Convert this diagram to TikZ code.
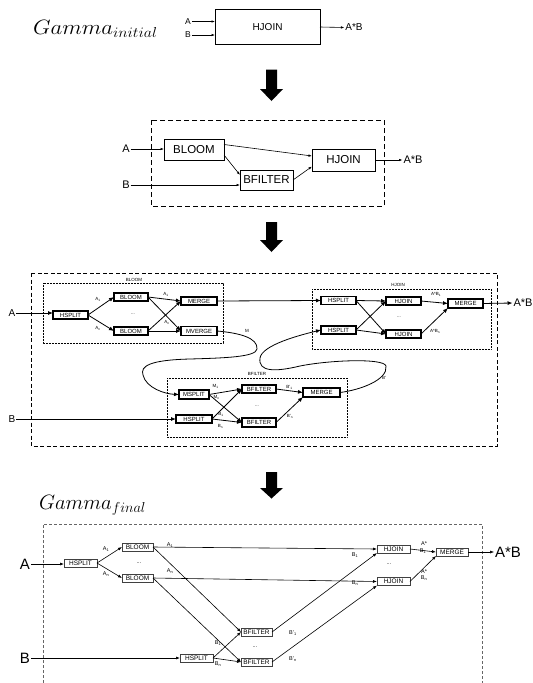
\documentclass[tikz,border=0pt]{standalone}
\usepackage{fontspec}
\setmainfont{Liberation Sans}
\usepackage{graphicx}
\usetikzlibrary{arrows.meta}
\newcommand{\fsz}[1]{\fontsize{#1}{#1}\selectfont}
\begin{document}
\begin{tikzpicture}[x=1pt,y=-1pt,
  every node/.style={inner sep=0pt,outer sep=0pt},
  lbl/.style={inner sep=1pt},
  sarr/.style={-{Latex[length=3.5pt,width=2.5pt]},line width=0.6pt},
  marr/.style={-{Latex[length=5pt,width=4pt]},line width=0.8pt},
  farr/.style={-{Latex[length=4pt,width=3pt]},line width=0.6pt},
  sbox/.style={draw,line width=0.7pt,font=\fsz{11.5}},
  mbx/.style={draw,line width=1.1pt,minimum height=8pt,font=\fsz{6}},
  fbx/.style={draw=black!75,line width=0.8pt,minimum height=8pt,font=\fsz{6.5}},
  grp/.style={line width=0.8pt,dash pattern=on 0.8pt off 0.7pt},
  mlab/.style={inner sep=0.5pt,font=\fsz{4.5}},
  flab/.style={inner sep=0.5pt,font=\fsz{5.5}},
  bigarrow/.style={fill=black}]
\useasboundingbox (0,0) rectangle (533,683);

% ---------- initial plan ----------
\node[lbl,anchor=base west] (gi) at (32,34) {\fsz{21.5}\scalebox{1.1}[1]{$Gamma_{initial}$}};
\node[draw,line width=0.7pt,minimum width=105pt,minimum height=35.5pt,font=\fsz{10}] (hj0) at (267.5,27) {HJOIN};
\node[lbl,font=\fsz{8.5}] (a0) at (188,21.5) {A};
\node[lbl,font=\fsz{8.5}] (b0) at (188,35) {B};
\node[lbl,font=\fsz{10}] (ab0) at (354,27.5) {A*B};
\draw[sarr] (a0.east) -- (a0.east -| hj0.west);
\draw[sarr] (b0.east) -- (b0.east -| hj0.west);
\draw[sarr] (hj0.east) -- (ab0.west);

\fill[bigarrow] (266,69.5) -- (277,69.5) -- (277,89) -- (283,89) -- (271.5,101) -- (260,89) -- (266,89) -- cycle;

% ---------- bloom filter plan ----------
\draw[dash pattern=on 5pt off 3pt,line width=0.7pt] (151,120) rectangle (384,206);
\node[sbox,minimum width=60pt,minimum height=21pt] (bl2) at (194,149.5) {BLOOM};
\node[sbox,minimum width=53pt,minimum height=20pt] (bf2) at (266.5,180) {BFILTER};
\node[sbox,minimum width=63pt,minimum height=22pt] (hj2) at (343.5,160) {HJOIN};
\node[lbl,font=\fsz{11}] (a2) at (126,149) {A};
\node[lbl,font=\fsz{11}] (b2) at (126,185) {B};
\node[lbl,font=\fsz{11}] (ab2) at (413,160) {A*B};
\draw[sarr] (a2.east) -- (a2.east -| bl2.west);
\draw[sarr] (b2.east) -- (b2.east -| bf2.west);
\draw[sarr] ([yshift=5pt]bl2.east) -- ([yshift=4pt]hj2.west);
\draw[sarr] ([yshift=-5.5pt]bl2.east) -- ([yshift=5pt]bf2.west);
\draw[sarr] (bf2.east) -- ([yshift=-6.5pt]hj2.west);
\draw[sarr] (hj2.east) -- (ab2.west);

\fill[bigarrow] (266,222) -- (277,222) -- (277,240) -- (283,240) -- (271.5,252) -- (260,240) -- (266,240) -- cycle;

% ---------- parallel plan ----------
\draw[dash pattern=on 4pt off 2.5pt,line width=0.8pt] (31,273) rectangle (497,446);

% BLOOM group
\draw[grp] (43,283) rectangle (223,343);
\node[mlab] (gbl) at (134,280) {BLOOM};
\node[mbx,minimum width=35pt] (hsA) at (70.5,315) {HSPLIT};
\node[mbx,minimum width=34pt] (bl1) at (131,297) {BLOOM};
\node[mbx,minimum width=34pt] (bln) at (131,331) {BLOOM};
\node[mbx,minimum width=36pt] (mg1) at (199,301) {MERGE};
\node[mbx,minimum width=36pt,minimum height=9pt] (mv1) at (199,331) {MVERGE};
\node[mlab] (la1) at (98,299.5) {A\textsubscript{1}};
\node[mlab] (lan) at (98,328) {A\textsubscript{n}};
\node[mlab] (lb1) at (166,294) {A\textsubscript{1}};
\node[mlab] (lbn) at (167,322.5) {A\textsubscript{n}};
\node[mlab] (dt1) at (133,314) {...};

% HJOIN group
\draw[grp] (312,289) rectangle (491,349);
\node[mlab] (ghj) at (398,285) {HJOIN};
\node[mbx,minimum width=35pt] (hs1) at (338.5,300.5) {HSPLIT};
\node[mbx,minimum width=35pt] (hs2) at (338.5,330) {HSPLIT};
\node[mbx,minimum width=35pt] (hj1) at (403.5,301) {HJOIN};
\node[mbx,minimum width=35pt] (hjn) at (403.5,334) {HJOIN};
\node[mbx,minimum width=35pt,minimum height=9pt] (mg2) at (465.5,303.5) {MERGE};
\node[mlab] (lj1) at (436,294) {A*B\textsubscript{1}};
\node[mlab] (ljn) at (435,331) {A*B\textsubscript{n}};
\node[mlab] (dt2) at (399,317) {...};

% BFILTER group
\draw[grp] (167,378) rectangle (347,437);
\node[mlab] (gbf) at (257,374) {BFILTER};
\node[mbx,minimum width=30pt,minimum height=9pt] (ms) at (194,394.5) {MSPLIT};
\node[mbx,minimum width=36pt] (hsB) at (194,419) {HSPLIT};
\node[mbx,minimum width=34pt] (bf1) at (259,389) {BFILTER};
\node[mbx,minimum width=34pt,minimum height=9pt] (bfn) at (259,422.5) {BFILTER};
\node[mbx,minimum width=37pt,minimum height=9pt] (mg3) at (321.5,392.5) {MERGE};
\node[mlab] (lm1) at (215.5,386.5) {M\textsubscript{1}};
\node[mlab] (lmn) at (216.5,397) {M\textsubscript{n}};
\node[mlab] (lq1) at (221,414.5) {B\textsubscript{1}};
\node[mlab] (lqn) at (220.5,426) {B\textsubscript{n}};
\node[mlab] (lr1) at (289.5,387.5) {B'\textsubscript{1}};
\node[mlab] (lrn) at (290,416.5) {B'\textsubscript{n}};
\node[mlab] (dt3) at (257,406) {...};

\node[lbl,font=\fsz{10}] (A3) at (12,313) {A};
\node[lbl,font=\fsz{10}] (B3) at (12,419) {B};
\node[lbl,font=\fsz{11}] (AB3) at (523,303) {A*B};
\node[mlab] (lM) at (247,331) {M};
\node[mlab] (lB) at (384,378) {B'};

\draw[marr] (A3.east) -- (A3.east -| hsA.west);
\draw[marr] (hsA.east) -- (bl1.west);
\draw[marr] (hsA.east) -- (bln.west);
\draw[marr] (bl1.east) -- (mg1.west);
\draw[marr] (bl1.east) -- (mv1.west);
\draw[marr] (bln.east) -- (mg1.west);
\draw[marr] (bln.east) -- (mv1.west);
\draw[marr] (mg1.east) -- (hs1.west);
\draw[marr] (hs1.east) -- (hj1.west);
\draw[marr] (hs1.east) -- (hjn.west);
\draw[marr] (hs2.east) -- (hj1.west);
\draw[marr] (hs2.east) -- (hjn.west);
\draw[marr] (hj1.east) -- (mg2.west);
\draw[marr] (hjn.east) -- (mg2.south west);
\draw[marr] (mg2.east) -- (AB3.west);
\draw[marr] (B3.east) -- (B3.east -| hsB.west);
\draw[marr] (ms.east) -- (bf1.west);
\draw[marr] (ms.east) -- (bfn.west);
\draw[marr] (hsB.east) -- (bf1.west);
\draw[marr] (hsB.east) -- (bfn.west);
\draw[marr] (bf1.east) -- (mg3.west);
\draw[marr] (bfn.east) -- (mg3.south west);

% looping feeds between groups
\coordinate (mc1) at (257,349);
\coordinate (mc2) at (190,359);
\coordinate (mc3) at (143,375);
\draw[marr] (mv1.east) .. controls (240,333) and (258,338) .. (mc1)
  .. controls (256,357) and (225,358) .. (mc2)
  .. controls (150,360) and (140,366) .. (mc3)
  .. controls (146,388) and (165,394) .. (ms.west);
\coordinate (bc1) at (386,366);
\coordinate (bc2) at (300,366);
\coordinate (bc3) at (260,358);
\draw[marr] (mg3.east) .. controls (360,390) and (388,380) .. (bc1)
  .. controls (384,358) and (330,360) .. (bc2)
  .. controls (275,372) and (258,372) .. (bc3)
  .. controls (262,345) and (300,335) .. (hs2.west);

\fill[bigarrow] (266,472) -- (277,472) -- (277,488) -- (283,488) -- (271.5,498.5) -- (260,488) -- (266,488) -- cycle;

% ---------- final plan ----------
\node[lbl,anchor=base west] (gf) at (38,509) {\fsz{21.5}$Gamma_{final}$};
\draw[draw=black!60,line width=0.6pt,dash pattern=on 3pt off 2pt] (43,683) -- (43,524) -- (482,524) -- (482,683);

\node[fbx,minimum width=33pt] (hsF) at (80.5,563) {HSPLIT};
\node[fbx,minimum width=31pt] (bF1) at (137.5,547) {BLOOM};
\node[fbx,minimum width=31pt] (bFn) at (137.5,578) {BLOOM};
\node[fbx,minimum width=33pt] (hjF1) at (393.5,549) {HJOIN};
\node[fbx,minimum width=33pt] (hjFn) at (393.5,581.5) {HJOIN};
\node[fbx,minimum width=32pt] (mgF) at (452,552) {MERGE};
\node[fbx,minimum width=31pt] (bfF1) at (256.5,632) {BFILTER};
\node[fbx,minimum width=31pt] (bfFn) at (256.5,662) {BFILTER};
\node[fbx,minimum width=33pt] (hsFB) at (196.5,658) {HSPLIT};

\node[lbl,font=\fsz{15}] (aF) at (25,564) {A};
\node[lbl,font=\fsz{15}] (bF) at (25,658) {B};
\node[lbl,font=\fsz{15}] (abF) at (508,552) {A*B};

\node[flab] (fa1) at (106,549) {A\textsubscript{1}};
\node[flab] (fan) at (106,574.5) {A\textsubscript{n}};
\node[flab] (fb1) at (170,545) {A\textsubscript{1}};
\node[flab] (fbn) at (170,571) {A\textsubscript{n}};
\node[flab] (fd1) at (139,563) {...};
\node[flab] (fc1) at (355,555.5) {B\textsubscript{1}};
\node[flab] (fcn) at (355,583) {B\textsubscript{n}};
\node[flab] (fd2) at (389,564) {...};
\node[flab] (fe1) at (424,543.5) {A*};
\node[flab] (fe2) at (423,551.5) {B\textsubscript{1}};
\node[flab] (fe3) at (424,571.5) {A*};
\node[flab] (fe4) at (424,578.5) {B\textsubscript{n}};
\node[flab] (fg1) at (218,643) {B\textsubscript{1}};
\node[flab] (fgn) at (218,664) {B\textsubscript{n}};
\node[flab] (fd3) at (255,647) {...};
\node[flab] (fh1) at (293,633) {B'\textsubscript{1}};
\node[flab] (fhn) at (293,659) {B'\textsubscript{n}};

\draw[farr] (aF.east) -- (aF.east -| hsF.west);
\draw[farr] (hsF.east) -- (bF1.west);
\draw[farr] (hsF.east) -- (bFn.west);
\draw[farr] (bF1.east) -- (hjF1.west);
\draw[farr] (bFn.east) -- (hjFn.west);
\draw[farr] (bF1.east) -- (bfF1.west);
\draw[farr] (bFn.east) -- (bfFn.west);
\draw[farr] (bF.east) -- (bF.east -| hsFB.west);
\draw[farr] (hsFB.east) -- (bfF1.west);
\draw[farr] (hsFB.east) -- (bfFn.west);
\draw[farr] (bfF1.east) -- (hjF1.south west);
\draw[farr] (bfFn.east) -- (hjFn.south west);
\draw[farr] (hjF1.east) -- (mgF.west);
\draw[farr] (hjFn.east) -- (mgF.south west);
\draw[farr] (mgF.east) -- (abF.west);
\end{tikzpicture}
\end{document}
